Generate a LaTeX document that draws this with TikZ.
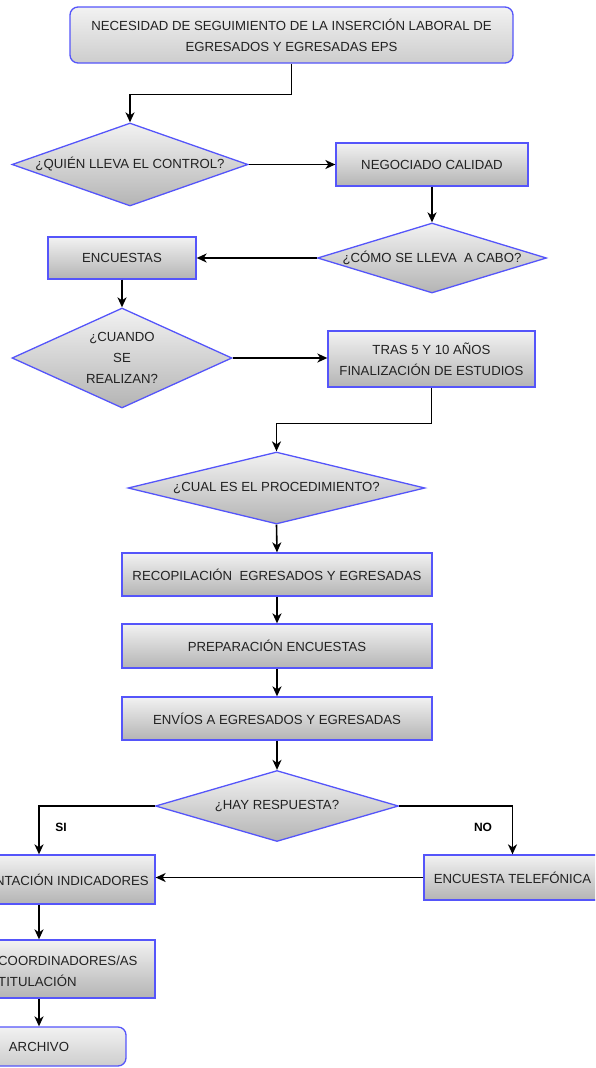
\documentclass[tikz,border=0pt]{standalone}
\usepackage{fontspec}
\setmainfont{Liberation Sans}
\usetikzlibrary{arrows.meta,shapes.geometric}
\definecolor{bordblue}{RGB}{85,85,250}
\definecolor{gtop}{RGB}{242,242,242}
\definecolor{gbot}{RGB}{180,180,180}
\definecolor{gbotlight}{RGB}{205,205,205}
\definecolor{txt}{RGB}{34,34,34}
\newcommand{\fsz}{\fontsize{13.2pt}{21pt}\selectfont}
\begin{document}
\begin{tikzpicture}[x=1pt,y=-1pt,
  boxstyle/.style={rectangle, draw=bordblue, line width=1.3pt, top color=gtop, bottom color=gbot, text=txt, font=\fsz, inner sep=0pt, align=center},
  roundbox/.style={boxstyle, rounded corners=8pt, bottom color=gbotlight},
  diastyle/.style={diamond, draw=bordblue, line width=1.3pt, top color=gtop, bottom color=gbot, inner sep=0pt},
  labtext/.style={text=txt, font=\fsz, align=center, inner sep=0pt},
  conn/.style={draw=black, line width=1.6pt, -{Stealth[length=10pt,width=9pt,inset=3pt]}},
  branch/.style={font=\fontsize{12pt}{14pt}\selectfont\bfseries, text=black, inner sep=0pt}
]
\useasboundingbox (0,0) rectangle (595,1068);
\clip (0,0) rectangle (595,1068);

% nodes
\node[roundbox, minimum width=443pt, minimum height=56pt] (top) at (291.5,35)
  {NECESIDAD DE SEGUIMIENTO DE LA INSERCIÓN LABORAL DE\\EGRESADOS Y EGRESADAS EPS};
\node[diastyle, minimum width=236pt, minimum height=83pt,
  label={[labtext]center:{¿QUIÉN LLEVA EL CONTROL?}}] (q1) at (130,164.5) {};
\node[boxstyle, minimum width=192pt, minimum height=43pt] (neg) at (432,164.5) {NEGOCIADO CALIDAD};
\node[diastyle, minimum width=229pt, minimum height=70pt,
  label={[labtext]center:{¿CÓMO SE LLEVA\ \ A CABO?}}] (q2) at (432,258) {};
\node[boxstyle, minimum width=148pt, minimum height=42pt] (enc) at (122,258) {ENCUESTAS};
\node[diastyle, minimum width=220pt, minimum height=100pt,
  label={[labtext]center:{¿CUANDO\\SE\\REALIZAN?}}] (q3) at (122,358) {};
\node[boxstyle, minimum width=207pt, minimum height=56pt] (tras) at (431.5,359)
  {TRAS 5 Y 10 AÑOS\\FINALIZACIÓN DE ESTUDIOS};
\node[diastyle, minimum width=297pt, minimum height=72pt,
  label={[labtext]center:{¿CUAL ES EL PROCEDIMIENTO?}}] (q4) at (276.5,488) {};
\node[boxstyle, minimum width=310pt, minimum height=43pt] (recop) at (277,574.5)
  {RECOPILACIÓN\ \ EGRESADOS Y EGRESADAS};
\node[boxstyle, minimum width=310pt, minimum height=44pt] (prep) at (277,646)
  {PREPARACIÓN ENCUESTAS};
\node[boxstyle, minimum width=310pt, minimum height=43pt] (envios) at (277,718.5)
  {ENVÍOS A EGRESADOS Y EGRESADAS};
\node[diastyle, minimum width=243pt, minimum height=71pt,
  label={[labtext]center:{¿HAY RESPUESTA?}}] (q5) at (277,806) {};
\node[boxstyle, minimum width=232pt, minimum height=49pt] (ind) at (39,879.5) {};
\node[labtext, anchor=east] (indtxt) at (149,880) {NTACIÓN INDICADORES};
\node[boxstyle, minimum width=177pt, minimum height=45pt] (tel) at (512.5,877.5) {ENCUESTA TELEFÓNICA};
\node[boxstyle, minimum width=232pt, minimum height=58pt] (coord) at (39,969) {};
\node[labtext, align=left, anchor=west] (coordtxt) at (-2,971) {COORDINADORES/AS\\TITULACIÓN};
\node[roundbox, minimum width=174pt, minimum height=39pt] (arch) at (39,1046.5) {ARCHIVO};

\node[branch] (si) at (61,827) {SI};
\node[branch] (no) at (483,827) {NO};

% connectors
\draw[conn] (top.south) -- ++(0,31) -| (q1.north);
\draw[conn] (q1.east) -- (neg.west);
\draw[conn] (neg.south) -- (q2.north);
\draw[conn] (q2.west) -- (enc.east);
\draw[conn] (enc.south) -- (q3.north);
\draw[conn] (q3.east) -- (q3.east -| tras.west);
\draw[conn] (tras.south) -- ++(0,36) -| (q4.north);
\draw[conn] (q4.south) -- (recop.north);
\draw[conn] (recop.south) -- (prep.north);
\draw[conn] (prep.south) -- (envios.north);
\draw[conn] (envios.south) -- (q5.north);
\draw[conn] (q5.west) -| (ind.north);
\draw[conn] (q5.east) -| (tel.north);
\draw[conn] (tel.west) -- (tel.west -| ind.east);
\draw[conn] (ind.south) -- (coord.north);
\draw[conn] (coord.south) -- (arch.north);
\end{tikzpicture}
\end{document}
